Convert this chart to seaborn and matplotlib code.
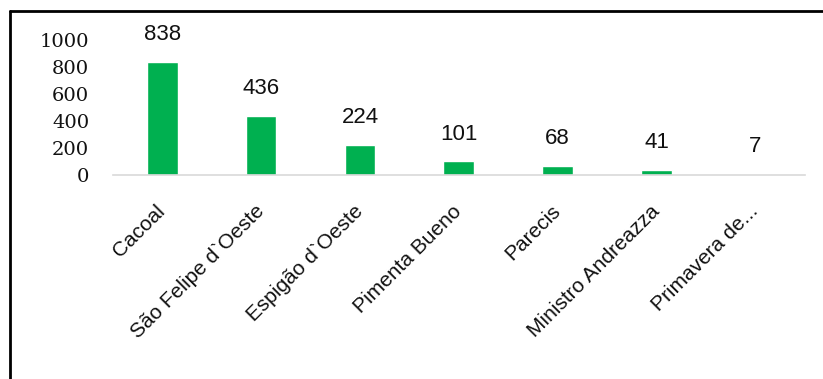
import matplotlib
matplotlib.use("Agg")
import matplotlib.pyplot as plt
import seaborn as sns
import pandas as pd
from matplotlib.lines import Line2D

cities = ["Cacoal", "São Felipe d`Oeste", "Espigão d`Oeste", "Pimenta Bueno",
          "Parecis", "Ministro Andreazza", "Primavera de..."]
values = [838, 436, 224, 101, 68, 41, 7]
yticks = [0, 200, 400, 600, 800, 1000]

sns.set_theme(style="white")
plt.rcParams['font.family'] = ['Liberation Sans', 'DejaVu Sans']

df = pd.DataFrame({"city": cities, "value": values})

fig = plt.figure(figsize=(8.23, 3.79), dpi=100)
ax = fig.add_axes([0.137, 0.538, 0.841, 0.357])

sns.barplot(data=df, x="city", y="value", color="#00B050", width=0.31,
            saturation=1, ax=ax)

ax.set_ylim(0, 1000)
ax.set_xlim(-0.5, len(cities) - 0.5)
ax.set_yticks(yticks)
ax.set_yticklabels([str(t) for t in yticks])
ax.tick_params(axis='y', length=0, pad=17, colors='#111111', labelsize=14)
ax.tick_params(axis='x', length=0, pad=24)
for lab in ax.get_yticklabels():
    lab.set_fontfamily(['DejaVu Serif'])
    lab.set_fontsize(14)
for lab in ax.get_xticklabels():
    lab.set_rotation(45)
    lab.set_ha('right')
    lab.set_va('center')
    lab.set_rotation_mode('anchor')
    lab.set_fontsize(15)
    lab.set_color('#111111')
ax.set_xlabel("")
ax.set_ylabel("")
for s in ["top", "right", "left"]:
    ax.spines[s].set_visible(False)
ax.spines["bottom"].set_color("#D9D9D9")
ax.spines["bottom"].set_linewidth(1.2)

for i, v in enumerate(values):
    ax.annotate(str(v), xy=(i, v), xytext=(0, 12), textcoords='offset points',
                ha='center', va='bottom', fontsize=16, color='#111111')

# figure frame (top and left only, as in reference)
fig.add_artist(Line2D([10/823, 1.0], [1 - 11/379, 1 - 11/379], transform=fig.transFigure,
                      color='black', linewidth=2))
fig.add_artist(Line2D([10/823, 10/823], [0, 1 - 11/379], transform=fig.transFigure,
                      color='black', linewidth=2))

fig.savefig("out.png", dpi=100)
